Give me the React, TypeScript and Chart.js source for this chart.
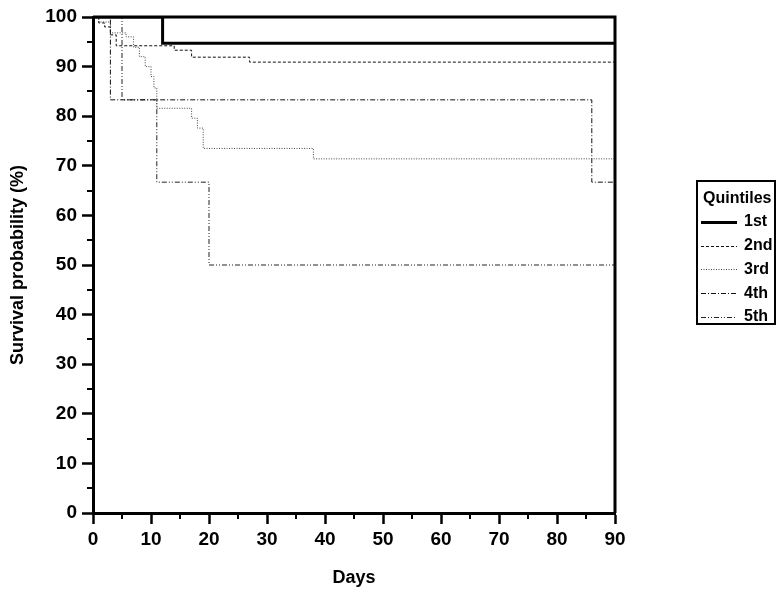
import React, { useEffect, useRef } from 'react';
import { Chart, registerables } from 'chart.js';

Chart.register(...registerables);

// Kaplan–Meier survival curves by quintile (day of event, survival % after it)
const q1Days = [0, 12, 90];
const q1Surv = [100, 94.7, 94.7];
const q2Days = [0, 1, 2, 3, 4, 14, 17, 27, 90];
const q2Surv = [100, 98.8, 98.0, 96.4, 94.2, 93.3, 91.9, 90.9, 90.9];
const q3Days = [0, 1, 3, 5.7, 7, 8, 9, 10, 10.5, 11, 17, 18, 19, 38, 90];
const q3Surv = [100, 99.0, 96.8, 96.0, 93.9, 92.0, 90.0, 88.0, 85.7, 81.6, 79.6, 77.6, 73.5, 71.4, 71.4];
const q4Days = [0, 3, 86, 90];
const q4Surv = [100, 83.3, 66.7, 66.7];
const q5Days = [0, 5, 11, 20, 90];
const q5Surv = [100, 83.3, 66.7, 50, 50];

const seriesLabels = ['1st', '2nd', '3rd', '4th', '5th'];
const legendTitle = 'Quintiles';
const xTitle = 'Days';
const yTitle = 'Survival probability (%)';

const FONT = "'Liberation Sans', Arial, sans-serif";

const styles = [
  { color: '#000', width: 3, dash: [] as number[] },
  { color: '#111', width: 1, dash: [3, 2] },
  { color: '#444', width: 1, dash: [1, 1.5] },
  { color: '#111', width: 1, dash: [5, 2, 1, 2] },
  { color: '#222', width: 1, dash: [5, 2, 1, 2, 1, 2] },
];

const toPts = (d: number[], s: number[]) => d.map((x, i) => ({ x, y: s[i] }));

const frameAndLegend = {
  id: 'frameAndLegend',
  afterDatasetsDraw(chart: any) {
    const { ctx, chartArea: a } = chart;
    ctx.save();
    ctx.strokeStyle = '#000';
    ctx.lineWidth = 3;
    ctx.beginPath();
    ctx.moveTo(a.left, a.top);
    ctx.lineTo(a.right, a.top);
    ctx.lineTo(a.right, a.bottom);
    ctx.stroke();
    // minor ticks
    const xs = chart.scales.x;
    const ys = chart.scales.y;
    ctx.lineWidth = 2;
    for (let v = 5; v < 100; v += 10) {
      const py = Math.round(ys.getPixelForValue(v));
      ctx.beginPath();
      ctx.moveTo(a.left - 6, py);
      ctx.lineTo(a.left, py);
      ctx.stroke();
    }
    for (let v = 5; v < 90; v += 10) {
      const px = Math.round(xs.getPixelForValue(v));
      ctx.beginPath();
      ctx.moveTo(px, a.bottom);
      ctx.lineTo(px, a.bottom + 6);
      ctx.stroke();
    }
    ctx.restore();
  },
  afterDraw(chart: any) {
    const { ctx } = chart;
    ctx.save();
    const bx = 697, by = 181, bw = 78, bh = 143;
    ctx.strokeStyle = '#000';
    ctx.lineWidth = 2;
    ctx.strokeRect(bx, by, bw, bh);
    ctx.fillStyle = '#000';
    ctx.textBaseline = 'middle';
    ctx.textAlign = 'left';
    ctx.font = `bold 16px ${FONT}`;
    ctx.fillText(legendTitle, bx + 6, by + 18);
    seriesLabels.forEach((lab, i) => {
      const y = by + 41 + i * 23.7;
      const st = styles[i];
      ctx.beginPath();
      ctx.strokeStyle = st.color;
      ctx.lineWidth = st.width;
      ctx.setLineDash(st.dash);
      ctx.moveTo(bx + 4, Math.round(y) + 0.5);
      ctx.lineTo(bx + 40, Math.round(y) + 0.5);
      ctx.stroke();
      ctx.setLineDash([]);
      ctx.fillText(lab, bx + 47, y);
    });
    ctx.restore();
  },
};

export default function App() {
  const ref = useRef<HTMLCanvasElement | null>(null);
  useEffect(() => {
    if (!ref.current) return;
    const series = [
      toPts(q1Days, q1Surv),
      toPts(q2Days, q2Surv),
      toPts(q3Days, q3Surv),
      toPts(q4Days, q4Surv),
      toPts(q5Days, q5Surv),
    ];
    const datasets = series.map((data, i) => ({
      label: seriesLabels[i],
      data,
      stepped: 'before' as const,
      borderColor: styles[i].color,
      borderWidth: styles[i].width,
      borderDash: styles[i].dash,
      pointRadius: 0,
      fill: false,
      order: i,
    }));
    const tickFont = { family: FONT, size: 19, weight: 'bold' as const };
    const titleFont = { family: FONT, size: 18, weight: 'bold' as const };
    const chart = new Chart(ref.current, {
      type: 'line',
      data: { datasets },
      options: {
        animation: false,
        responsive: false,
        layout: { padding: { top: 17, right: 167, left: 0, bottom: 0 } },
        plugins: { legend: { display: false }, tooltip: { enabled: false } },
        scales: {
          x: {
            type: 'linear',
            min: 0,
            max: 90,
            ticks: { stepSize: 10, font: tickFont, color: '#000', padding: 4, maxRotation: 0 },
            grid: { display: true, drawOnChartArea: false, drawTicks: true, tickLength: 11, tickWidth: 2.5, tickColor: '#000' },
            border: { display: true, color: '#000', width: 3 },
            title: { display: true, text: xTitle, font: titleFont, color: '#000', padding: { top: 0, bottom: 5 } },
            afterFit: (s: any) => { s.height = 81; },
          },
          y: {
            type: 'linear',
            min: 0,
            max: 100,
            ticks: { stepSize: 10, font: tickFont, color: '#000', padding: 5 },
            grid: { display: true, drawOnChartArea: false, drawTicks: true, tickLength: 11, tickWidth: 2.5, tickColor: '#000' },
            border: { display: true, color: '#000', width: 3 },
            title: { display: true, text: yTitle, font: titleFont, color: '#000', padding: { top: 7, bottom: 0 } },
            afterFit: (s: any) => { s.width = 93; },
          },
        },
      },
      plugins: [frameAndLegend],
    });
    return () => chart.destroy();
  }, []);
  return (
    <div style={{ position: 'fixed', left: 0, top: 0, width: 782, height: 594, background: '#fff' }}>
      <canvas ref={ref} width={782} height={594} style={{ display: 'block' }} />
    </div>
  );
}
